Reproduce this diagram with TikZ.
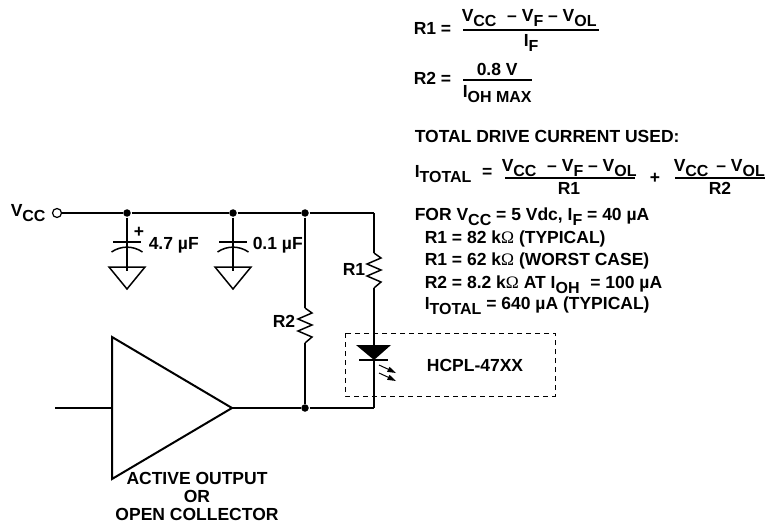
\documentclass[tikz,border=0pt]{standalone}
\usepackage{fontspec}
\setmainfont{Liberation Sans}
\newfontfamily\omegafont{Liberation Serif}
\newcommand{\lowsub}[1]{\raisebox{-5pt}{\fontsize{16}{20}\selectfont #1}}
\newcommand{\kohm}{k{\omegafont\mdseries\char"03A9}}

\begin{document}
\begin{tikzpicture}[x=1pt,y=-1pt,line width=1.5pt,
    label/.style={inner sep=0pt,anchor=base west,font=\fontsize{17.5}{20}\selectfont\bfseries},
    labelmid/.style={label,anchor=base},
    dot/.style={circle,fill=black,inner sep=0pt,minimum size=7.5pt},
    terminal/.style={circle,draw,fill=white,line width=1.2pt,inner sep=0pt,minimum size=9pt},
    capacitor/.pic={
        \draw (0,0) -- (0,29);
        \draw (-14,0) -- (14,0);
        \draw (-15.5,10) .. controls (-6,3.5) and (6,3.5) .. (15.5,10);
        \draw (-18,25) -- (18,25) -- (0,47) -- cycle;
    },
    resistor/.pic={
        \draw (0,0) -- (7,5) -- (-7,11) -- (7,17) -- (-7,23) -- (7,29) -- (0,35);
    },
    glow/.pic={
        \draw[line width=1pt] (0,0) -- (13,6);
        \fill (17,8) -- (8,6.8) -- (10.5,1.8) -- cycle;
    }]
    \useasboundingbox (0,0) rectangle (767,529);

    % supply rail
    \node [terminal] (vcc) at (57,213) {};
    \node [dot] (dot_1) at (127,213) {};
    \node [dot] (dot_2) at (233,213) {};
    \node [dot] (dot_3) at (305,213) {};
    \coordinate (corner_1) at (374,213);
    \draw (vcc) -- (dot_1) -- (dot_2) -- (dot_3) -- (corner_1);

    % capacitors
    \path (dot_1) ++ (0,29) pic {capacitor};
    \path (dot_2) ++ (0,29) pic {capacitor};
    \draw (dot_1) -- ++ (0,29);
    \draw (dot_2) -- ++ (0,29);

    % resistors
    \coordinate (r1_top) at (374,253);
    \coordinate (r1_bot) at (374,288);
    \coordinate (r2_top) at (305,308);
    \coordinate (r2_bot) at (305,343);
    \path (r1_top) pic {resistor};
    \path (r2_top) pic {resistor};

    % amplifier
    \coordinate (amp_a) at (112,337);
    \coordinate (amp_b) at (112,479);
    \coordinate (amp_out) at (232,408);
    \coordinate (amp_in) at (112,408);
    \coordinate (input) at (55,408);
    \node [dot] (dot_4) at (305,408) {};
    \coordinate (corner_2) at (374,408);
    \draw [line width=2pt] (amp_a) -- (amp_b) -- (amp_out) -- cycle;
    \draw (input) -- (amp_in);
    \draw (amp_out) -- (dot_4) -- (corner_2);
    \draw (corner_1) -- (r1_top);
    \draw (r1_bot) -- (corner_2);
    \draw (dot_3) -- (r2_top);
    \draw (r2_bot) -- (dot_4);

    % led
    \fill (356,345) -- (391,345) -- (374,360) -- cycle;
    \draw (359,360) -- (388,360);
    \path (379,365) pic {glow};
    \path (379,373) pic {glow};
    \draw [dashed,line width=1pt,dash pattern=on 5pt off 4pt] (345,333) rectangle (555,396);

    % circuit labels
    \node [label] (vcc_label) at (10,217) {V\lowsub{CC}};
    \node [label] (plus) at (133,237) {+};
    \node [label] (c1_label) at (148,249) {4.7 µF};
    \node [label] (c2_label) at (252,249) {0.1 µF};
    \node [label] (r1_label) at (342,275) {R1};
    \node [label] (r2_label) at (272,327) {R2};
    \node [labelmid] (opto) at (475,371) {HCPL-47XX};
    \node [labelmid] (amp_1) at (197,484) {ACTIVE OUTPUT};
    \node [labelmid] (amp_2) at (197,502) {OR};
    \node [labelmid] (amp_3) at (197,520) {OPEN COLLECTOR};

    % formulas
    \node [label] (r1_eq) at (413,35) {R1 =};
    \node [label] (r1_num) at (461,22) {V\lowsub{CC}\,\, -- V\lowsub{F} -- V\lowsub{OL}};
    \node [label] (r1_den) at (523,47) {I\lowsub{F}};
    \draw (463,30) -- (599,30);
    \node [label] (r2_eq) at (413,85) {R2 =};
    \node [label] (r2_num) at (476,76) {0.8 V};
    \node [label] (r2_den) at (462,98) {I\lowsub{OH MAX}};
    \draw (463,80) -- (532,80);
    \node [label] (total_head) at (414,143) {TOTAL DRIVE CURRENT USED:};
    \node [label] (total_eq) at (414,178) {I\lowsub{TOTAL}\,\, =};
    \node [label] (total_num_1) at (501,172) {V\lowsub{CC}\,\, -- V\lowsub{F} -- V\lowsub{OL}};
    \node [label] (total_den_1) at (557,195) {R1};
    \draw (505,178) -- (635,178);
    \node [label] (total_plus) at (649,184) {+};
    \node [label] (total_num_2) at (673,172) {V\lowsub{CC}\, -- V\lowsub{OL}};
    \node [label] (total_den_2) at (708,195) {R2};
    \draw (675,178) -- (765,178);

    % values
    \node [label] (line_1) at (414,221) {FOR V\lowsub{CC} = 5 Vdc, I\lowsub{F} = 40 µA};
    \node [label] (line_2) at (424,243) {R1 = 82 \kohm{} (TYPICAL)};
    \node [label] (line_3) at (424,265) {R1 = 62 \kohm{} (WORST CASE)};
    \node [label] (line_4) at (424,288) {R2 = 8.2 \kohm{} AT I\lowsub{OH}\,\, = 100 µA};
    \node [label] (line_5) at (424,309) {I\lowsub{TOTAL} = 640 µA (TYPICAL)};
\end{tikzpicture}
\end{document}
